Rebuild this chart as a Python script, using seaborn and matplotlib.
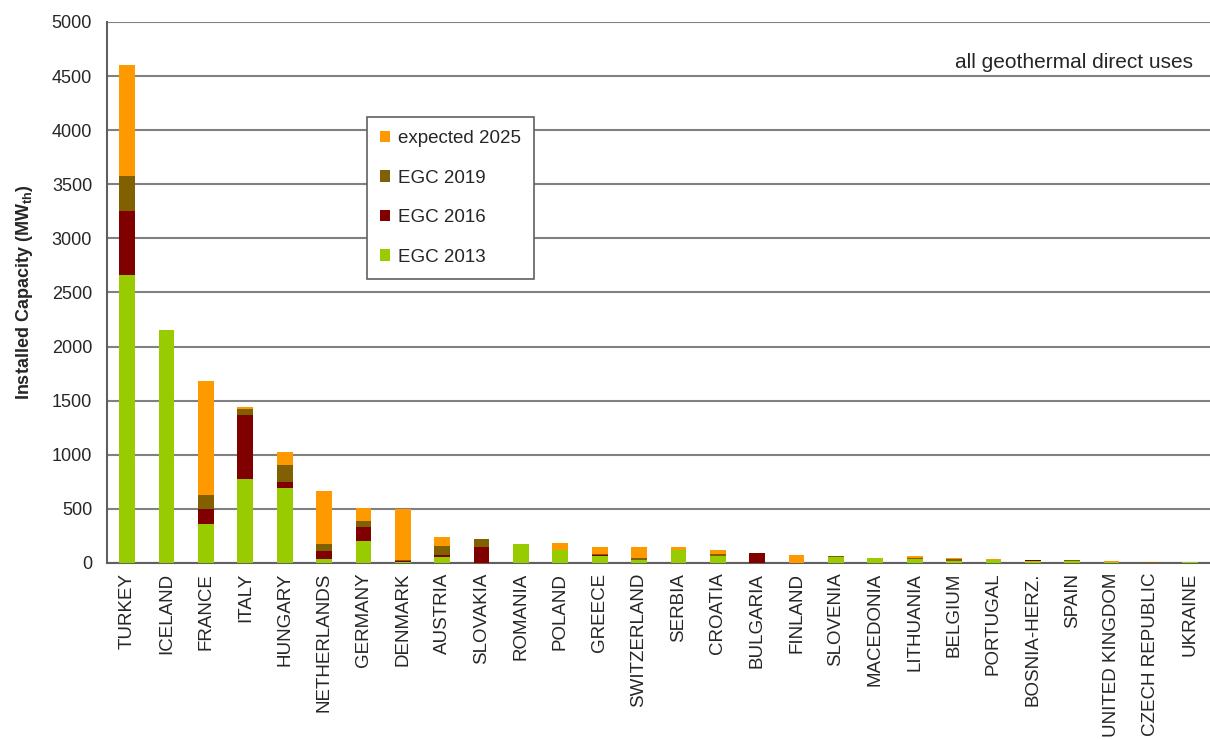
import numpy as np
import pandas as pd
import matplotlib
matplotlib.use("Agg")
import matplotlib.pyplot as plt
from matplotlib.patches import Patch
import seaborn as sns

# Installed capacity (MWth), cumulative level reached in each EGC year
countries = ["TURKEY", "ICELAND", "FRANCE", "ITALY", "HUNGARY", "NETHERLANDS",
             "GERMANY", "DENMARK", "AUSTRIA", "SLOVAKIA", "ROMANIA", "POLAND",
             "GREECE", "SWITZERLAND", "SERBIA", "CROATIA", "BULGARIA", "FINLAND",
             "SLOVENIA", "MACEDONIA", "LITHUANIA", "BELGIUM", "PORTUGAL",
             "BOSNIA-HERZ.", "SPAIN", "UNITED KINGDOM", "CZECH REPUBLIC", "UKRAINE"]
egc_2013 = [2660, 2150, 364, 776, 693, 35, 207, 5, 53, 0, 173, 117,
            60, 25, 120, 60, 0, 0, 55, 50, 35, 15, 26, 15, 20, 5, 4, 5]
egc_2016 = [3257, 2150, 496, 1366, 745, 113, 330, 15, 78, 149, 173, 117,
            70, 30, 120, 65, 95, 0, 58, 50, 38, 20, 26, 25, 20, 5, 4, 5]
egc_2019 = [3580, 2150, 625, 1422, 905, 180, 392, 30, 161, 222, 173, 117,
            86, 43, 120, 86, 95, 0, 67, 50, 45, 36, 26, 30, 28, 5, 8, 8]
expected_2025 = [4600, 2150, 1684, 1444, 1029, 666, 508, 500, 240, 222, 175, 182,
                 152, 145, 145, 120, 95, 74, 67, 50, 69, 47, 38, 32, 32, 17, 9, 10]

series = ["expected 2025", "EGC 2019", "EGC 2016", "EGC 2013"]
colors = {"expected 2025": "#FF9900", "EGC 2019": "#806000",
          "EGC 2016": "#800000", "EGC 2013": "#99CC00"}

df = pd.DataFrame({"country": countries, "EGC 2013": egc_2013, "EGC 2016": egc_2016,
                   "EGC 2019": egc_2019, "expected 2025": expected_2025})

sns.set_style("white")
plt.rcParams["font.family"] = ["Liberation Sans", "DejaVu Sans"]
plt.rcParams["mathtext.fontset"] = "custom"
plt.rcParams["mathtext.rm"] = "Liberation Sans"
plt.rcParams["mathtext.bf"] = "Liberation Sans:bold"

fig = plt.figure(figsize=(12.1, 7.4), dpi=100)
ax = fig.add_axes([0.0888, 0.2392, 0.9112, 0.7311])

# draw the tallest level first, the earlier levels on top of it
for s in series:
    sns.barplot(data=df, x="country", y=s, color=colors[s], width=0.4,
                saturation=1, linewidth=0, edgecolor="none", ax=ax, zorder=3)

ax.set_xlim(-0.5, len(countries) - 0.5)
ax.set_ylim(0, 5000)
ax.set_yticks(np.arange(0, 5001, 500))
ax.yaxis.grid(True, color="#808080", linewidth=1.5, zorder=0)
ax.set_axisbelow(True)
for side in ["top", "right"]:
    ax.spines[side].set_visible(False)
for side in ["left", "bottom"]:
    ax.spines[side].set_color("#606060")
    ax.spines[side].set_linewidth(1.5)

ax.set_xticks(range(len(countries)))
ax.set_xticklabels(countries, rotation=90, fontsize=13.5)
ax.set_xticks(np.arange(-0.5, len(countries), 1), minor=True)
ax.tick_params(axis="x", which="major", length=0, pad=7)
ax.tick_params(axis="x", which="minor", length=6, width=1.2, color="#606060", direction="out")
ax.tick_params(axis="y", which="major", length=5, width=1.2, color="#606060",
               direction="out", labelsize=13, pad=6)
ax.set_xlabel("")
ax.set_ylabel(r"Installed Capacity (MW$_{\mathbf{th}}$)", fontsize=13,
              fontweight="bold", labelpad=12)

ax.text(0.985, 0.925, "all geothermal direct uses", transform=ax.transAxes,
        ha="right", va="center", fontsize=15)

handles = [Patch(facecolor=colors[s], edgecolor="none", label=s) for s in series]
leg = ax.legend(handles=handles, loc="upper left",
                bbox_to_anchor=(367 / 1210, 1 - 117 / 740), bbox_transform=fig.transFigure,
                fontsize=13.5, frameon=True, fancybox=False, framealpha=1,
                edgecolor="#606060", handlelength=0.55, handleheight=0.55,
                handletextpad=0.4, labelspacing=1.2, borderpad=0.7,
                borderaxespad=0)
leg.get_frame().set_linewidth(1.2)

fig.savefig("out.png", dpi=100)
